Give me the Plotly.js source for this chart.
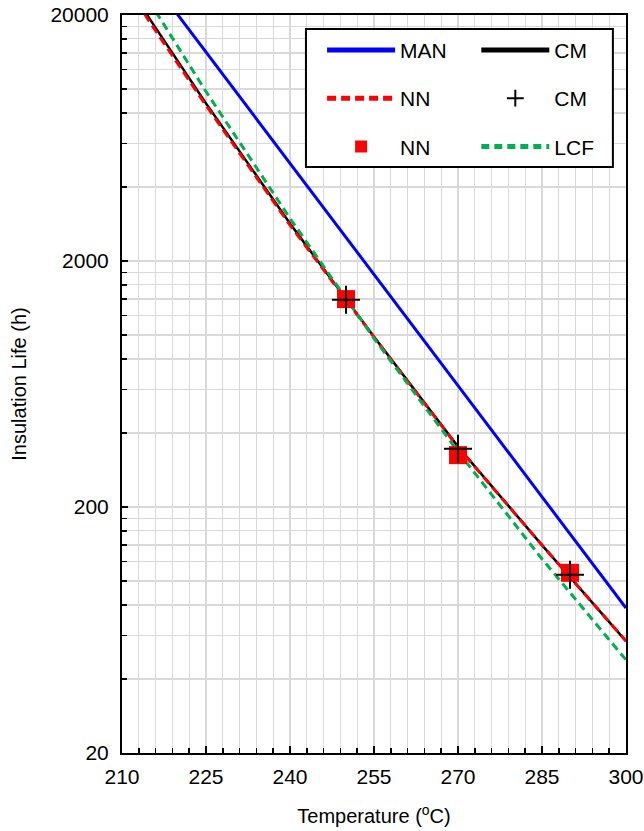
<!DOCTYPE html>
<html>
<head>
<meta charset="utf-8">
<script src="https://cdn.plot.ly/plotly-3.0.1.min.js"></script>
<style>html,body{margin:0;padding:0;background:#fff;}#chart{width:644px;height:831px;}</style>
</head>
<body>
<div id="chart"></div>
<script>
// Temperatures (°C) at which the curves were read
const temps = [210, 215, 225, 240, 255, 270, 285, 300];
// Insulation life (h)
const manLife = [40000, 28300, 14100, 5000, 1760, 623, 220, 77.7];
const cmLife  = [28800, 19200, 8750, 2840, 985, 352, 140, 57];
const nnLife  = [28200, 18650, 8580, 2800, 980, 350, 140, 57];
const lcfLife = [34600, 22500, 9770, 2980, 970, 336, 123, 47.8];
// Test points
const pointTemps = [250, 270, 290];
const cmPoints = [1390, 345, 106];
const nnPoints = [1400, 325, 108];
// Axis ticks
const yMajorTicks = [20, 200, 2000, 20000];
const yMajorText = ['20', '200', '2000', '20000'];
const yMinorTicks = [40, 60, 80, 100, 120, 140, 160, 180,
                     400, 600, 800, 1000, 1200, 1400, 1600, 1800,
                     4000, 6000, 8000, 10000, 12000, 14000, 16000, 18000];

const traces = [
  {x: temps, y: manLife, mode: 'lines', name: 'MAN', line: {color: '#0000ff', width: 3},
   legend: 'legend', legendrank: 1, legendgroup: 'g1'},
  {x: temps, y: cmLife, mode: 'lines', name: 'CM', line: {color: '#000000', width: 2.5},
   legend: 'legend2', legendrank: 1, legendgroup: 'g2'},
  {x: temps, y: nnLife, mode: 'lines', name: 'NN', line: {color: '#ff0000', width: 3, dash: '9px,5px'},
   legend: 'legend', legendrank: 2, legendgroup: 'g3'},
  {x: temps, y: lcfLife, mode: 'lines', name: 'LCF', line: {color: '#00b050', width: 3, dash: '8px,5px'},
   legend: 'legend2', legendrank: 3, legendgroup: 'g4'},
  {x: pointTemps, y: nnPoints, mode: 'markers', name: 'NN',
   marker: {symbol: 'square', size: 18, color: '#ff0000'},
   legend: 'legend', legendrank: 3, legendgroup: 'g5'},
  {x: pointTemps, y: cmPoints, mode: 'markers', name: 'CM',
   marker: {symbol: 'cross-thin', size: 20, color: '#000000', line: {color: '#000000', width: 2}},
   legend: 'legend2', legendrank: 2, legendgroup: 'g6'}
];

const legendCommon = {
  orientation: 'v', xanchor: 'left', yanchor: 'top', y: 0.98,
  bgcolor: 'rgba(0,0,0,0)', borderwidth: 0, itemsizing: 'constant',
  font: {size: 21, color: '#000'}, itemwidth: 68, tracegroupgap: 18
};

const layout = {
  width: 644, height: 831,
  margin: {l: 122, r: 18, t: 15, b: 78},
  paper_bgcolor: '#ffffff', plot_bgcolor: '#ffffff',
  font: {family: '"Liberation Sans", Arial, sans-serif', color: '#000'},
  showlegend: true,
  xaxis: {
    range: [210, 300], tick0: 210, dtick: 15,
    ticks: 'inside', ticklen: 7, tickwidth: 1.5, tickcolor: '#000',
    showline: true, linecolor: '#000', linewidth: 2, mirror: true,
    showgrid: true, gridcolor: '#d9d9d9', gridwidth: 1.3, zeroline: false,
    tickfont: {size: 21}, ticklabelstandoff: 4,
    title: {text: 'Temperature (<sup>o</sup>C)', font: {size: 20}, standoff: 22},
    minor: {tick0: 210, dtick: 3, ticks: 'inside', ticklen: 5, tickwidth: 1.5, tickcolor: '#000',
            showgrid: true, gridcolor: '#d9d9d9', gridwidth: 1.3}
  },
  yaxis: {
    type: 'log', range: [Math.log10(20), Math.log10(20000)],
    tickmode: 'array', tickvals: yMajorTicks, ticktext: yMajorText,
    ticks: 'inside', ticklen: 6, tickwidth: 1.5, tickcolor: '#000',
    showline: true, linecolor: '#000', linewidth: 2, mirror: true,
    showgrid: true, gridcolor: '#d9d9d9', gridwidth: 1.3, zeroline: false,
    tickfont: {size: 21}, ticklabelstandoff: 7,
    title: {text: 'Insulation Life (h)', font: {size: 20}, standoff: 18},
    minor: {tickmode: 'array', tickvals: yMinorTicks, ticks: 'inside', ticklen: 5, tickwidth: 1.5,
            tickcolor: '#000', showgrid: true, gridcolor: '#d9d9d9', gridwidth: 1.3}
  },
  legend: Object.assign({}, legendCommon, {x: 0.397}),
  legend2: Object.assign({}, legendCommon, {x: 0.703}),
  shapes: [
    {type: 'rect', xref: 'paper', yref: 'paper', x0: 0.365, x1: 0.974, y0: 0.794, y1: 0.981,
     fillcolor: '#ffffff', line: {color: '#000', width: 2}, layer: 'above'}
  ]
};

Plotly.newPlot('chart', traces, layout, {displayModeBar: false, staticPlot: true});
</script>
</body>
</html>
